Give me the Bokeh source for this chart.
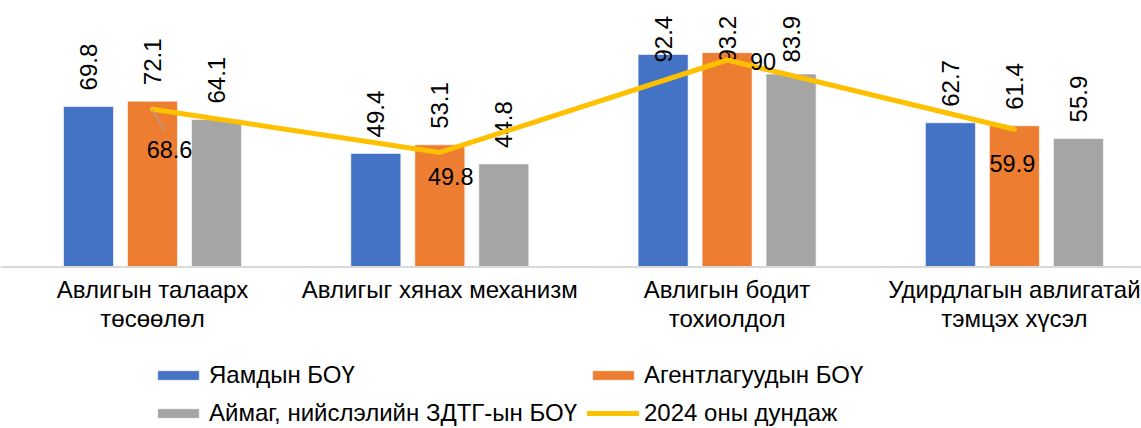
import numpy as np
from bokeh.plotting import figure
from bokeh.models import Range1d, Span, Legend, LegendItem, ColumnDataSource
from bokeh.core.properties import value
from bokeh.embed import file_html
from bokeh.resources import INLINE

# ---------------- data ----------------
categories = ["Авлигын талаарх\nтөсөөлөл", "Авлигыг хянах механизм",
              "Авлигын бодит\nтохиолдол", "Удирдлагын авлигатай\nтэмцэх хүсэл"]
yamd = [69.8, 49.4, 92.4, 62.7]          # Яамдын БОҮ
agent = [72.1, 53.1, 93.2, 61.4]         # Агентлагуудын БОҮ
aimag = [64.1, 44.8, 83.9, 55.9]         # Аймаг, нийслэлийн ЗДТГ-ын БОҮ
avg2024 = [68.6, 49.8, 90, 59.9]         # 2024 оны дундаж
series_names = ["Яамдын БОҮ", "Агентлагуудын БОҮ",
                "Аймаг, нийслэлийн ЗДТГ-ын БОҮ", "2024 оны дундаж"]

# ---------------- styling / layout ----------------
W, H = 1141, 428
PX_X = 287.3      # px per category
PX_Y = 2.30       # px per value unit
BASE = 266.5      # baseline, px from top of figure
FIRST_C = 152.0   # px of first category centre
FONT = "Liberation Sans"
colors = ["#4472C4", "#ED7D31", "#A5A5A5"]
line_color = "#FFC000"
bar_w = 50 / PX_X
offset = 64 / PX_X
lab_gap = 16 / PX_Y
lab_max = (BASE - 62) / PX_Y
# line label offsets in px (dx, dy down)
line_lab_dx = [17, 11, 36, -2]
line_lab_dy = [40, 24, 1, 34]

x = np.arange(len(categories)) + 0.5
x_start = 0.5 - FIRST_C / PX_X
y_end = BASE / PX_Y
y_start = y_end - H / PX_Y

p = figure(width=W, height=H, output_backend="svg", toolbar_location=None,
           x_range=Range1d(x_start, x_start + W / PX_X),
           y_range=Range1d(y_start, y_end),
           min_border=0, min_border_left=0, min_border_right=0,
           min_border_top=0, min_border_bottom=0,
           x_axis_location=None, y_axis_location=None)
p.grid.visible = False
p.outline_line_color = None
p.background_fill_color = "white"
p.border_fill_color = "white"

renderers = []
for vals, col, off in zip([yamd, agent, aimag], colors, [-offset, 0, offset]):
    src = ColumnDataSource(dict(x=x + off, top=vals,
                                lab=[("%g" % v) for v in vals],
                                ly=[min(v + lab_gap, lab_max) for v in vals]))
    r = p.vbar(x="x", top="top", bottom=0, width=bar_w, source=src,
               fill_color=col, line_color="white", line_width=0.6)
    renderers.append(r)
    p.text(x="x", y="ly", text="lab", source=src, angle=np.pi / 2,
           text_align="left", text_baseline="middle",
           text_font=value(FONT), text_font_size="24px", text_color="black")

base = Span(location=0, dimension="width", line_color="#D9D9D9", line_width=2)
p.add_layout(base)

lr = p.line(x, avg2024, line_color=line_color, line_width=5,
            line_cap="round", line_join="round")
renderers.append(lr)

# line value labels
lx = x + np.array(line_lab_dx) / PX_X
ly = np.array(avg2024) - np.array(line_lab_dy) / PX_Y
p.segment(x0=[x[0]], y0=[avg2024[0]],
          x1=[x[0] + 12 / PX_X], y1=[avg2024[0] - 22 / PX_Y],
          line_color="#A5A5A5", line_width=1.2)
p.text(x=lx, y=ly, text=[("%g" % v) for v in avg2024],
       text_align="center", text_baseline="middle",
       text_font=value(FONT), text_font_size="23.5px", text_color="black")

# category labels
cy = (BASE - 275) / PX_Y
p.text(x=x, y=[cy] * len(x), text=categories, text_align="center",
       text_baseline="top", text_font=value(FONT), text_font_size="24px",
       text_color="black", text_line_height=1.1)

# legends (two columns)
def mk_legend(items, fx, fy):
    lg = Legend(items=items, location=(fx, fy),
                orientation="vertical", padding=0, margin=0, spacing=10,
                glyph_width=52, glyph_height=12, label_height=24,
                label_standoff=5, label_text_font=FONT,
                label_text_font_size="24px", label_text_color="black",
                border_line_color=None, background_fill_alpha=0)
    return lg

lg1 = mk_legend([LegendItem(label=series_names[0], renderers=[renderers[0]]),
                 LegendItem(label=series_names[2], renderers=[renderers[2]])],
                152, 1.5)
lg2 = mk_legend([LegendItem(label=series_names[1], renderers=[renderers[1]]),
                 LegendItem(label=series_names[3], renderers=[renderers[3]])],
                587, 1.5)
p.add_layout(lg1)
p.add_layout(lg2)

open("out.html", "w").write(file_html(p, INLINE))
